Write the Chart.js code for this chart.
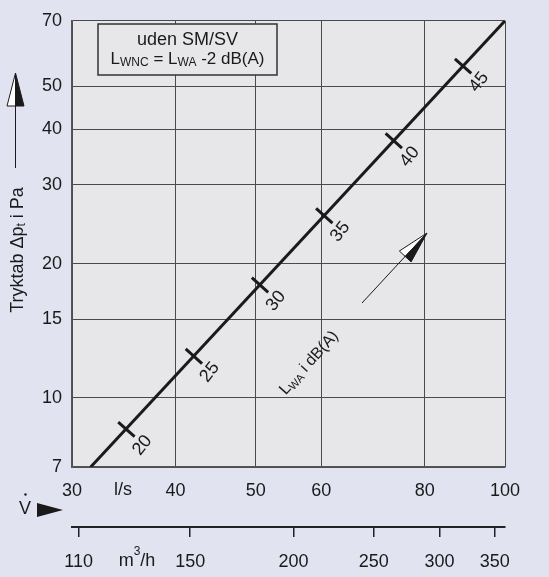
<!DOCTYPE html>
<html><head><meta charset="utf-8">
<script src="https://cdn.jsdelivr.net/npm/chart.js@4"></script>
<style>html,body{margin:0;padding:0;background:#e1e3f0;overflow:hidden}canvas{display:block}</style>
</head><body>
<canvas id="c" width="549" height="577"></canvas>
<script>
// ---- data ----
const flowTicksLs = [30, 40, 50, 60, 80, 100];          // l/s
const flowTicksM3h = [110, 150, 200, 250, 300, 350];     // m3/h
const pressureTicks = [7, 10, 15, 20, 30, 40, 50, 70];   // Pa
const lineFlow = [31.6, 100];                             // l/s
const linePressure = [7, 70];                             // Pa
const markDb = [20, 25, 30, 35, 40, 45];                  // dB(A)
const markFlow = [34.9, 42.1, 50.6, 60.5, 73.4, 89.0];    // l/s
const markPressure = [8.5, 12.4, 17.9, 25.6, 37.7, 55.4]; // Pa

const FONT = "'Liberation Sans', Arial, sans-serif";
const INK = '#1a1a1a';

function richWidth(ctx, parts) {
  let w = 0;
  for (const p of parts) { ctx.font = p.size + 'px ' + FONT; w += ctx.measureText(p.t).width; }
  return w;
}
function drawRich(ctx, parts, x, y) { // centered at x, middle baseline at y
  const w = richWidth(ctx, parts);
  let cx = x - w / 2;
  ctx.textBaseline = 'middle'; ctx.textAlign = 'left';
  for (const p of parts) {
    ctx.font = p.size + 'px ' + FONT;
    ctx.fillText(p.t, cx, y + (p.dy || 0));
    cx += ctx.measureText(p.t).width;
  }
}
function halfArrowHead(ctx, tx, ty, ang, len, hw, filledRight) {
  const bx = tx - Math.cos(ang) * len, by = ty - Math.sin(ang) * len;
  const nx = -Math.sin(ang), ny = Math.cos(ang);
  const lx = bx - nx * hw, ly = by - ny * hw;
  const rx = bx + nx * hw, ry = by + ny * hw;
  ctx.beginPath(); ctx.moveTo(tx, ty); ctx.lineTo(filledRight ? lx : rx, filledRight ? ly : ry); ctx.lineTo(bx, by); ctx.closePath();
  ctx.fillStyle = '#ffffff'; ctx.fill(); ctx.strokeStyle = INK; ctx.lineWidth = 1; ctx.stroke();
  ctx.beginPath(); ctx.moveTo(tx, ty); ctx.lineTo(filledRight ? rx : lx, filledRight ? ry : ly); ctx.lineTo(bx, by); ctx.closePath();
  ctx.fillStyle = INK; ctx.fill(); ctx.stroke();
}

const decor = {
  id: 'decor',
  beforeDraw(chart) {
    const { ctx, chartArea: a } = chart;
    ctx.save();
    ctx.fillStyle = '#e7e7e9';
    ctx.fillRect(a.left, a.top, a.right - a.left, a.bottom - a.top);
    ctx.restore();
  },
  afterDatasetsDraw(chart) {
    const { ctx } = chart;
    const meta = chart.getDatasetMeta(1);
    ctx.save();
    ctx.fillStyle = INK;
    meta.data.forEach((pt, i) => {
      ctx.save();
      ctx.translate(pt.x + 16, pt.y + 16);
      ctx.rotate(-52 * Math.PI / 180);
      ctx.font = '18px ' + FONT; ctx.textAlign = 'center'; ctx.textBaseline = 'middle';
      ctx.fillText(String(markDb[i]), 0, 0);
      ctx.restore();
    });
    ctx.fillStyle = '#e7e7e9';
    ctx.fillRect(98, 24, 179, 51);
    ctx.strokeStyle = '#333'; ctx.lineWidth = 1.5;
    ctx.strokeRect(98, 24, 179, 51);
    ctx.fillStyle = INK;
    drawRich(ctx, [{ t: 'uden SM/SV', size: 18 }], 187.5, 40);
    drawRich(ctx, [{ t: 'L', size: 17 }, { t: 'WNC', size: 12, dy: 4 }, { t: ' = L', size: 17 }, { t: 'WA', size: 12, dy: 4 }, { t: ' -2 dB(A)', size: 17 }], 187.5, 59);
    ctx.save();
    ctx.translate(309, 363);
    ctx.rotate(-48 * Math.PI / 180);
    drawRich(ctx, [{ t: 'L', size: 16 }, { t: 'WA', size: 11, dy: 4 }, { t: ' i dB(A)', size: 16 }], 0, 0);
    ctx.restore();
    ctx.strokeStyle = INK; ctx.lineWidth = 1;
    ctx.beginPath(); ctx.moveTo(362, 303); ctx.lineTo(412, 249); ctx.stroke();
    halfArrowHead(ctx, 427, 233, Math.atan2(233 - 303, 427 - 362), 32, 8, true);
    ctx.restore();
  },
  afterDraw(chart) {
    const { ctx } = chart;
    ctx.save();
    ctx.fillStyle = INK; ctx.strokeStyle = INK;
    ctx.save();
    ctx.translate(18, 250);
    ctx.rotate(-Math.PI / 2);
    drawRich(ctx, [{ t: 'Tryktab Δp', size: 18 }, { t: 't', size: 12, dy: 4 }, { t: ' i Pa', size: 18 }], 0, 0);
    ctx.restore();
    ctx.lineWidth = 1;
    ctx.beginPath(); ctx.moveTo(15.5, 168); ctx.lineTo(15.5, 100); ctx.stroke();
    halfArrowHead(ctx, 15.5, 73, -Math.PI / 2, 33, 8.5, true);
    ctx.fillStyle = INK;
    drawRich(ctx, [{ t: 'l/s', size: 18 }], 123, 490);
    drawRich(ctx, [{ t: 'm', size: 18 }, { t: '3', size: 12, dy: -9 }, { t: '/h', size: 18 }], 137, 561);
    drawRich(ctx, [{ t: 'V', size: 18 }], 25, 509);
    ctx.beginPath(); ctx.arc(25.5, 494.5, 1.2, 0, Math.PI * 2); ctx.fill();
    ctx.beginPath(); ctx.moveTo(37, 503); ctx.lineTo(63, 510); ctx.lineTo(37, 517); ctx.closePath(); ctx.fill();
    ctx.restore();
  }
};

const tickFont = { size: 18, family: FONT };

new Chart(document.getElementById('c'), {
  type: 'line',
  data: {
    datasets: [
      {
        data: lineFlow.map((v, i) => ({ x: v, y: linePressure[i] })),
        borderColor: INK, borderWidth: 3, pointRadius: 0, tension: 0
      },
      {
        data: markFlow.map((v, i) => ({ x: v, y: markPressure[i] })),
        showLine: false, pointStyle: 'line', rotation: 42, pointRadius: 11,
        borderColor: INK, pointBorderWidth: 3, pointBorderColor: INK
      }
    ]
  },
  options: {
    responsive: false, animation: false, devicePixelRatio: 1,
    layout: { padding: { top: 13, right: 44, left: 0, bottom: 0 } },
    plugins: { legend: { display: false }, tooltip: { enabled: false } },
    scales: {
      x: {
        type: 'logarithmic', position: 'bottom', min: 30, max: 100, weight: 0,
        afterBuildTicks: s => { s.ticks = flowTicksLs.map(v => ({ value: v })); },
        afterFit: s => { s.height = 60; },
        grid: { color: '#4a4a4a', lineWidth: 1, drawTicks: false },
        border: { display: true, color: '#555', width: 1.5 },
        ticks: { padding: 13, font: tickFont, color: INK, autoSkip: false, maxRotation: 0, callback: v => String(v) }
      },
      x2: {
        type: 'logarithmic', position: 'bottom', min: 108, max: 360, weight: 1,
        afterBuildTicks: s => { s.ticks = flowTicksM3h.map(v => ({ value: v })); },
        afterFit: s => { s.height = 50; },
        grid: { drawOnChartArea: false, drawTicks: true, tickLength: 10, color: '#222', lineWidth: 1.5 },
        border: { display: true, color: '#222', width: 2 },
        ticks: { padding: 14, font: tickFont, color: INK, autoSkip: false, maxRotation: 0, callback: v => String(v) }
      },
      y: {
        type: 'logarithmic', position: 'left', min: 7, max: 70,
        afterBuildTicks: s => { s.ticks = pressureTicks.map(v => ({ value: v })); },
        afterFit: s => { s.width = 72; },
        grid: { color: '#4a4a4a', lineWidth: 1, drawTicks: false },
        border: { display: true, color: '#555', width: 1.5 },
        ticks: { padding: 10, font: tickFont, color: INK, autoSkip: false, callback: v => String(v) }
      }
    }
  },
  plugins: [decor]
});
</script>
</body></html>
